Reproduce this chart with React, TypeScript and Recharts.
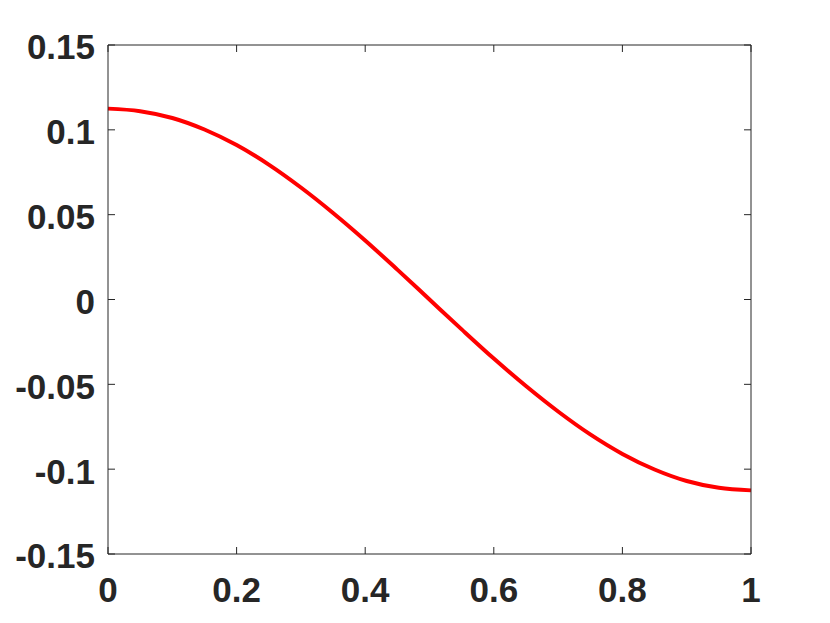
import React from "react";
import { LineChart, Line, XAxis, YAxis } from "recharts";

// values
const xValues = [0, 0.05, 0.1, 0.15, 0.2, 0.25, 0.3, 0.35, 0.4, 0.45, 0.5, 0.55, 0.6, 0.65, 0.7, 0.75, 0.8, 0.85, 0.9, 0.95, 1];
const yValues = [
  0.1125, 0.111, 0.107, 0.1002, 0.091, 0.0795, 0.066, 0.051, 0.0348, 0.0176, 0,
  -0.0176, -0.0348, -0.051, -0.066, -0.0795, -0.091, -0.1002, -0.107, -0.111, -0.1125,
];
const xTicks = [0, 0.2, 0.4, 0.6, 0.8, 1];
const yTicks = [-0.15, -0.1, -0.05, 0, 0.05, 0.1, 0.15];

const data = xValues.map((x, i) => ({ x, y: yValues[i] }));

const AXIS = "#262626";
const tickFont = {
  fontSize: 35,
  fontWeight: 700,
  fontFamily: "'Liberation Sans', Arial, sans-serif",
  fill: AXIS,
};

const NoLabel = () => <g />;

export default function App() {
  return (
    <div style={{ position: "absolute", left: 0, top: 0, background: "#fff" }}>
      <LineChart
        width={830}
        height={623}
        data={data}
        margin={{ top: 44, right: 78, left: 0, bottom: 0 }}
      >
        <XAxis
          xAxisId="bottom"
          dataKey="x"
          type="number"
          domain={[0, 1]}
          ticks={xTicks}
          height={69}
          tickSize={-7}
          tickMargin={30}
          stroke={AXIS}
          tick={tickFont}
        />
        {/* top and right axes only close the box, with inward ticks */}
        <XAxis
          xAxisId="top"
          orientation="top"
          dataKey="x"
          type="number"
          domain={[0, 1]}
          ticks={xTicks}
          height={1}
          tickSize={-7}
          tick={NoLabel}
          stroke={AXIS}
        />
        <YAxis
          yAxisId="left"
          type="number"
          domain={[-0.15, 0.15]}
          ticks={yTicks}
          width={108}
          tickSize={-7}
          tickMargin={20}
          stroke={AXIS}
          tick={{ ...tickFont, dy: 2 }}
        />
        <YAxis
          yAxisId="right"
          orientation="right"
          type="number"
          domain={[-0.15, 0.15]}
          ticks={yTicks}
          width={1}
          tickSize={-7}
          tick={NoLabel}
          stroke={AXIS}
        />
        <Line
          xAxisId="bottom"
          yAxisId="left"
          dataKey="y"
          type="monotone"
          stroke="#ff0000"
          strokeWidth={4}
          dot={false}
          isAnimationActive={false}
        />
        <Line
          xAxisId="top"
          yAxisId="right"
          dataKey="y"
          stroke="none"
          dot={false}
          activeDot={false}
          legendType="none"
          isAnimationActive={false}
        />
      </LineChart>
    </div>
  );
}
